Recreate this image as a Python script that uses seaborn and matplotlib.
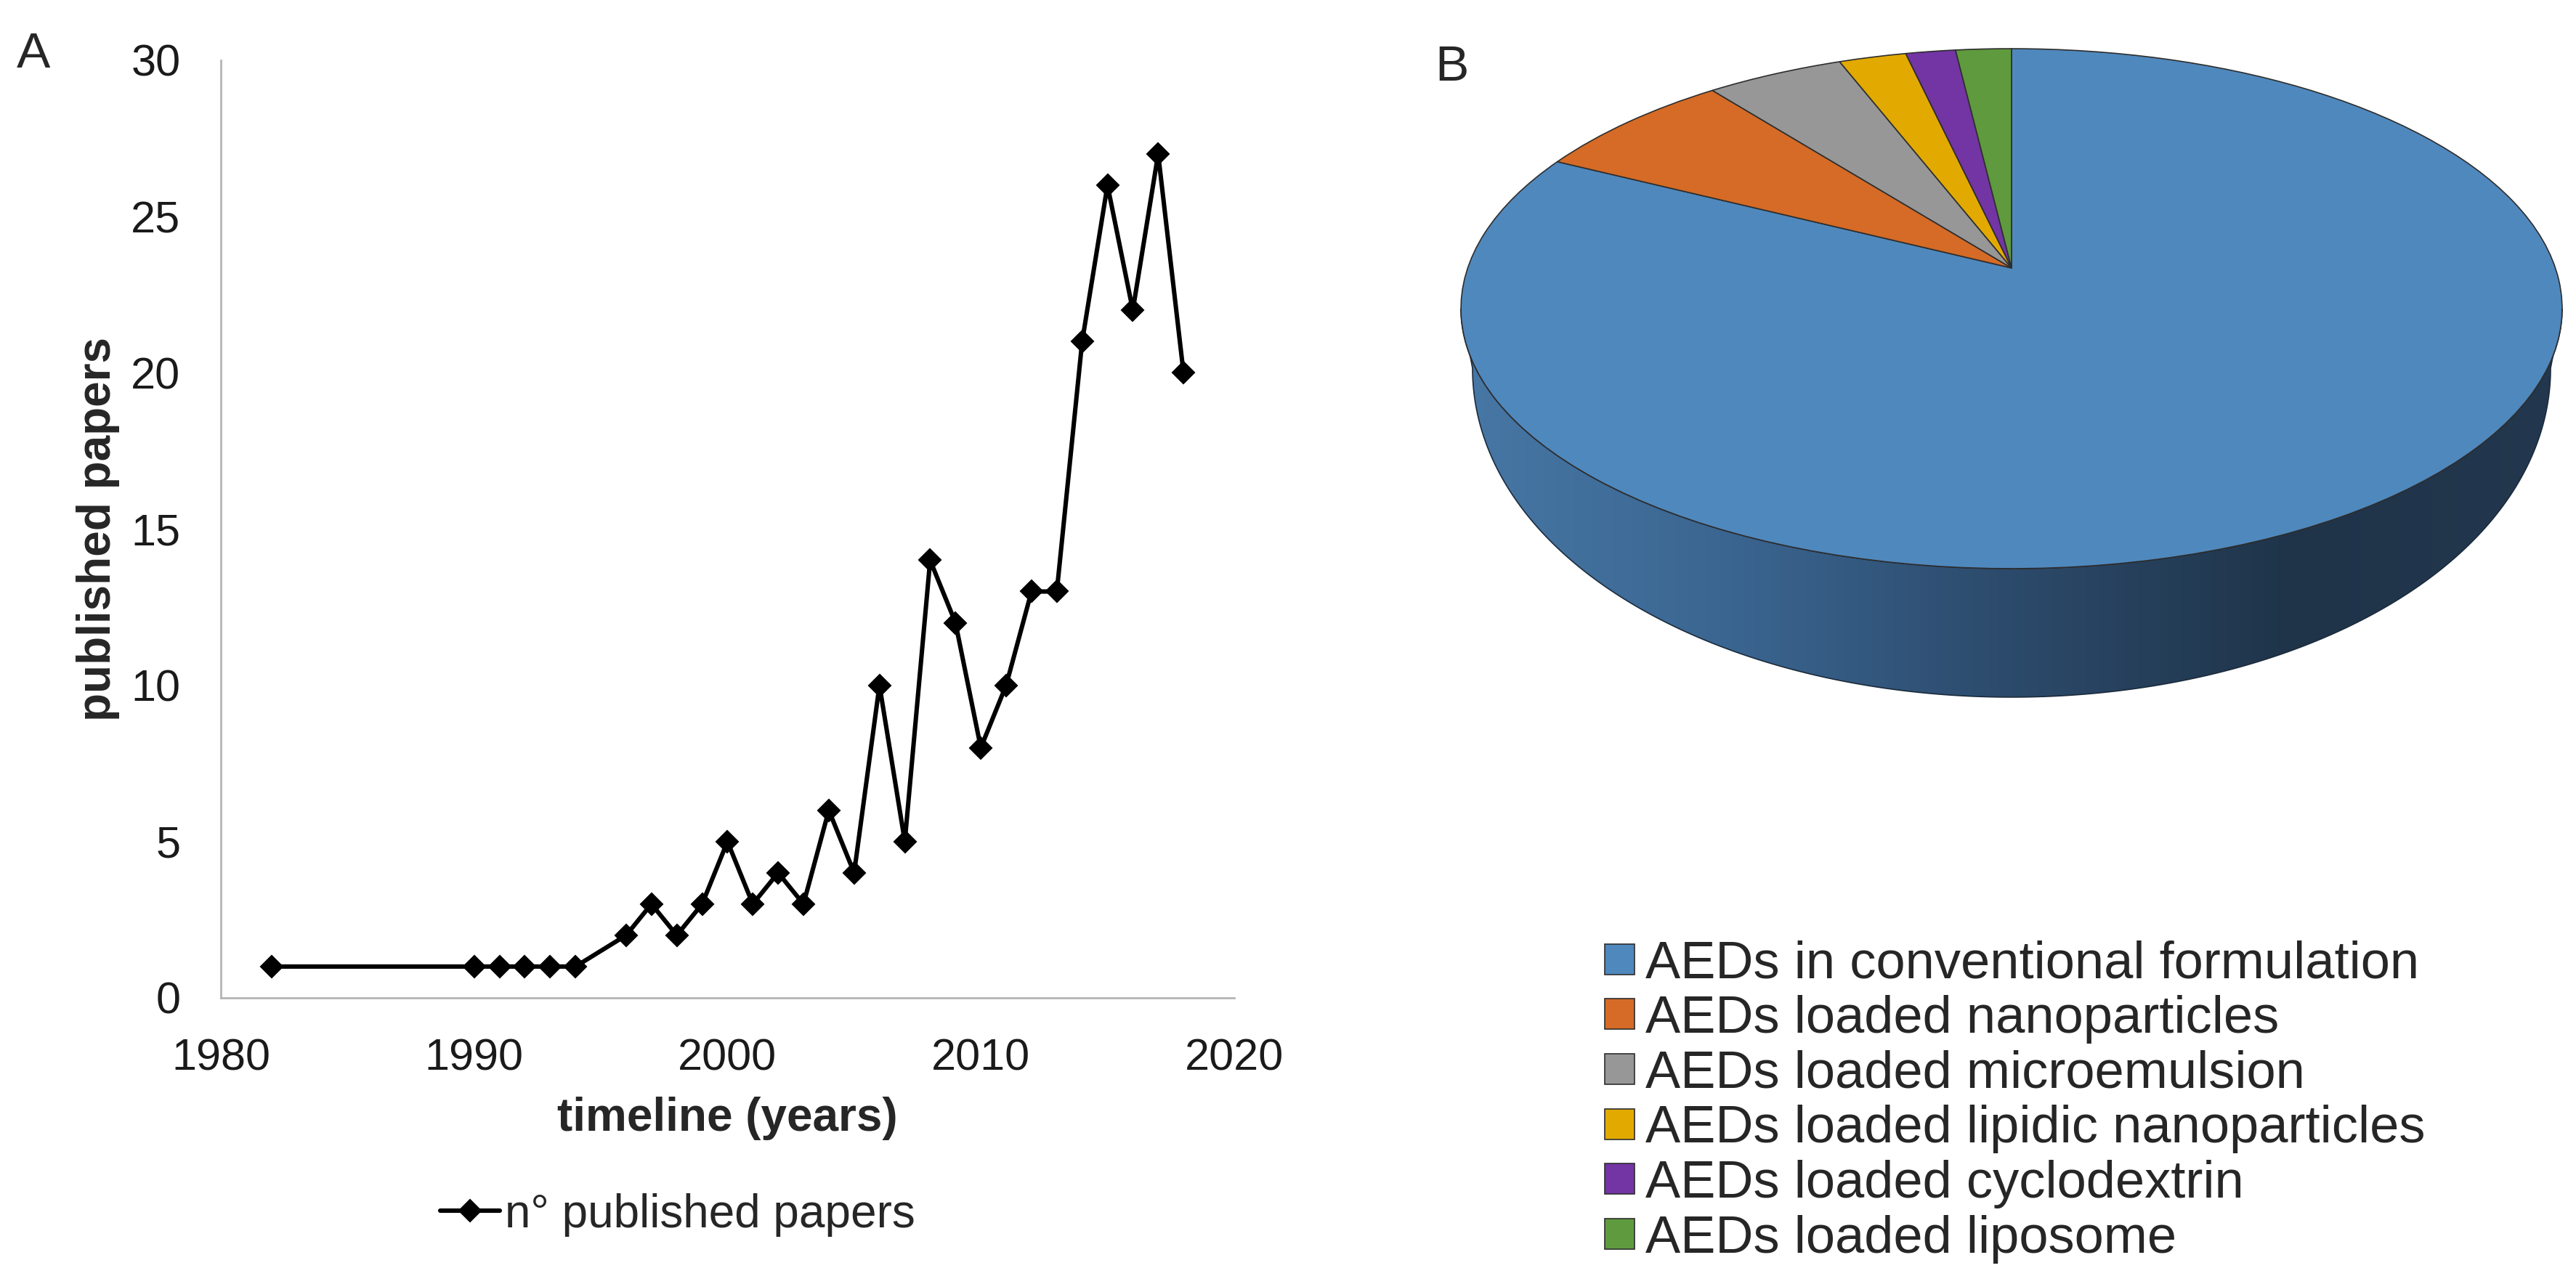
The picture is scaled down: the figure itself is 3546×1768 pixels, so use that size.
import numpy as np
import matplotlib
matplotlib.use("Agg")
import matplotlib.pyplot as plt
import seaborn as sns
from matplotlib.patches import Polygon
from matplotlib.colors import LinearSegmentedColormap
from matplotlib.transforms import Transform

# panel A data
years = [1982, 1990, 1991, 1992, 1993, 1994, 1996, 1997, 1998, 1999, 2000,
         2001, 2002, 2003, 2004, 2005, 2006, 2007, 2008, 2009, 2010, 2011,
         2012, 2013, 2014, 2015, 2016, 2017, 2018]
papers = [1, 1, 1, 1, 1, 1, 2, 3, 2, 3, 5,
          3, 4, 3, 6, 4, 10, 5, 14, 12, 8, 10,
          13, 13, 21, 26, 22, 27, 20]
x_ticks = [1980, 1990, 2000, 2010, 2020]
y_ticks = [0, 5, 10, 15, 20, 25, 30]

# panel B data (share in %)
pie_labels = ["AEDs in conventional formulation",
              "AEDs loaded nanoparticles",
              "AEDs loaded microemulsion",
              "AEDs loaded lipidic nanoparticles",
              "AEDs loaded cyclodextrin",
              "AEDs loaded liposome"]
pie_values = [82.4, 7.0, 4.7, 2.3, 1.7, 1.9]
pie_colors = ["#4f88bd", "#d56b26", "#979797", "#e2aa00", "#7334a4", "#5f9a3e"]


class Tilt(Transform):
    """perspective view of the unit disc, output in pixel offsets from the apex"""
    input_dims = 2
    output_dims = 2

    def __init__(self, a, b, k):
        super().__init__()
        self.a, self.b, self.k = a, b, k

    def transform_non_affine(self, values):
        v = np.asarray(values, dtype=float)
        w = 1 + self.k * v[:, 1]
        return np.column_stack([self.b * v[:, 0] / w, self.a * v[:, 1] / w])


sns.set_style("white")
plt.rcParams["font.family"] = ["Liberation Sans", "DejaVu Sans"]

fig = plt.figure(figsize=(17.73, 8.84), dpi=200)

# ---- A: line chart
ax = fig.add_axes([0.0857, 0.2229, 0.3934, 0.7302])
sns.lineplot(x=years, y=papers, ax=ax, color="black", linewidth=2.2,
             marker="D", markersize=7.5, markeredgecolor="black",
             label="n° published papers")
ax.set_xlim(1980, 2020)
ax.set_ylim(0, 30)
ax.set_xticks(x_ticks)
ax.set_yticks(y_ticks)
ax.tick_params(axis="both", length=0, pad=20, labelsize=22, colors="#1a1a1a")
for side in ["top", "right"]:
    ax.spines[side].set_visible(False)
for side in ["left", "bottom"]:
    ax.spines[side].set_color("#b5b5b5")
    ax.spines[side].set_linewidth(1.0)
ax.set_xlabel("timeline (years)", fontsize=23, fontweight="bold")
ax.set_ylabel("published papers", fontsize=23, fontweight="bold")
ax.xaxis.label.set_va("center")
ax.yaxis.label.set_va("center")
ax.xaxis.set_label_coords(0.5, -0.129)
ax.yaxis.set_label_coords(-0.121, 0.5)
ax.legend(loc="center", bbox_to_anchor=(0.263, 0.054), bbox_transform=fig.transFigure,
          frameon=False, fontsize=23, handlelength=1.28, handletextpad=0.11,
          borderpad=0, borderaxespad=0)

# ---- B: 3D-looking pie (data units = pixels from the apex)
ax2 = fig.add_axes([1960 / 3546, 1 - 1010 / 1768, 1586 / 3546, 990 / 1768])
A, B, K = 349.2, 748.6, 0.1564
tilt = Tilt(A, B, K)
wedges, _ = ax2.pie(pie_values, colors=pie_colors, startangle=90, counterclock=False,
                    wedgeprops=dict(edgecolor="#2e2e2e", linewidth=0.6))
for w in wedges:
    w.set_transform(tilt + ax2.transData)

# side wall of the disc (front part, blue slice)
s = np.arcsin(K)
t = np.linspace(np.pi + s, 2 * np.pi - s, 300)
wt = 1 + K * np.sin(t)
top_x = B * np.cos(t) / wt
top_y = A * np.sin(t) / wt
depth = 82 + 95 * (-np.sin(t) - K) / (1 - K)
wall_xy = np.vstack([np.column_stack([top_x, top_y]),
                     np.column_stack([0.979 * top_x, top_y - depth])[::-1]])
wall = Polygon(wall_xy, closed=True, facecolor="none", edgecolor="#1b2b3c",
               linewidth=0.6, zorder=0.5)
ax2.add_patch(wall)
side_cmap = LinearSegmentedColormap.from_list(
    "side", ["#4878a6", "#3a6590", "#2c4a6b", "#1f3449", "#23384e"])
grad = np.linspace(0, 1, 256).reshape(1, -1)
im = ax2.imshow(grad, extent=(-770, 770, -620, 0), aspect="auto", cmap=side_cmap, zorder=0)
im.set_clip_path(wall)

ax2.set_aspect("auto")
ax2.set_xlim(1960 - 2769, 3546 - 2769)
ax2.set_ylim(369 - 1010, 369 - 20)
ax2.axis("off")

ax2.legend(wedges, pie_labels, loc="center left", bbox_to_anchor=(0.623, 0.142),
           bbox_transform=fig.transFigure, frameon=False, fontsize=26,
           handlelength=0.56, handleheight=0.52, handletextpad=0.22,
           labelspacing=0.12, borderpad=0, borderaxespad=0)

fig.text(23 / 3546, 1 - 43 / 1768, "A", fontsize=25, ha="left", va="top")
fig.text(1975 / 3546, 1 - 61 / 1768, "B", fontsize=25, ha="left", va="top")

fig.savefig("out.png", dpi=200)
